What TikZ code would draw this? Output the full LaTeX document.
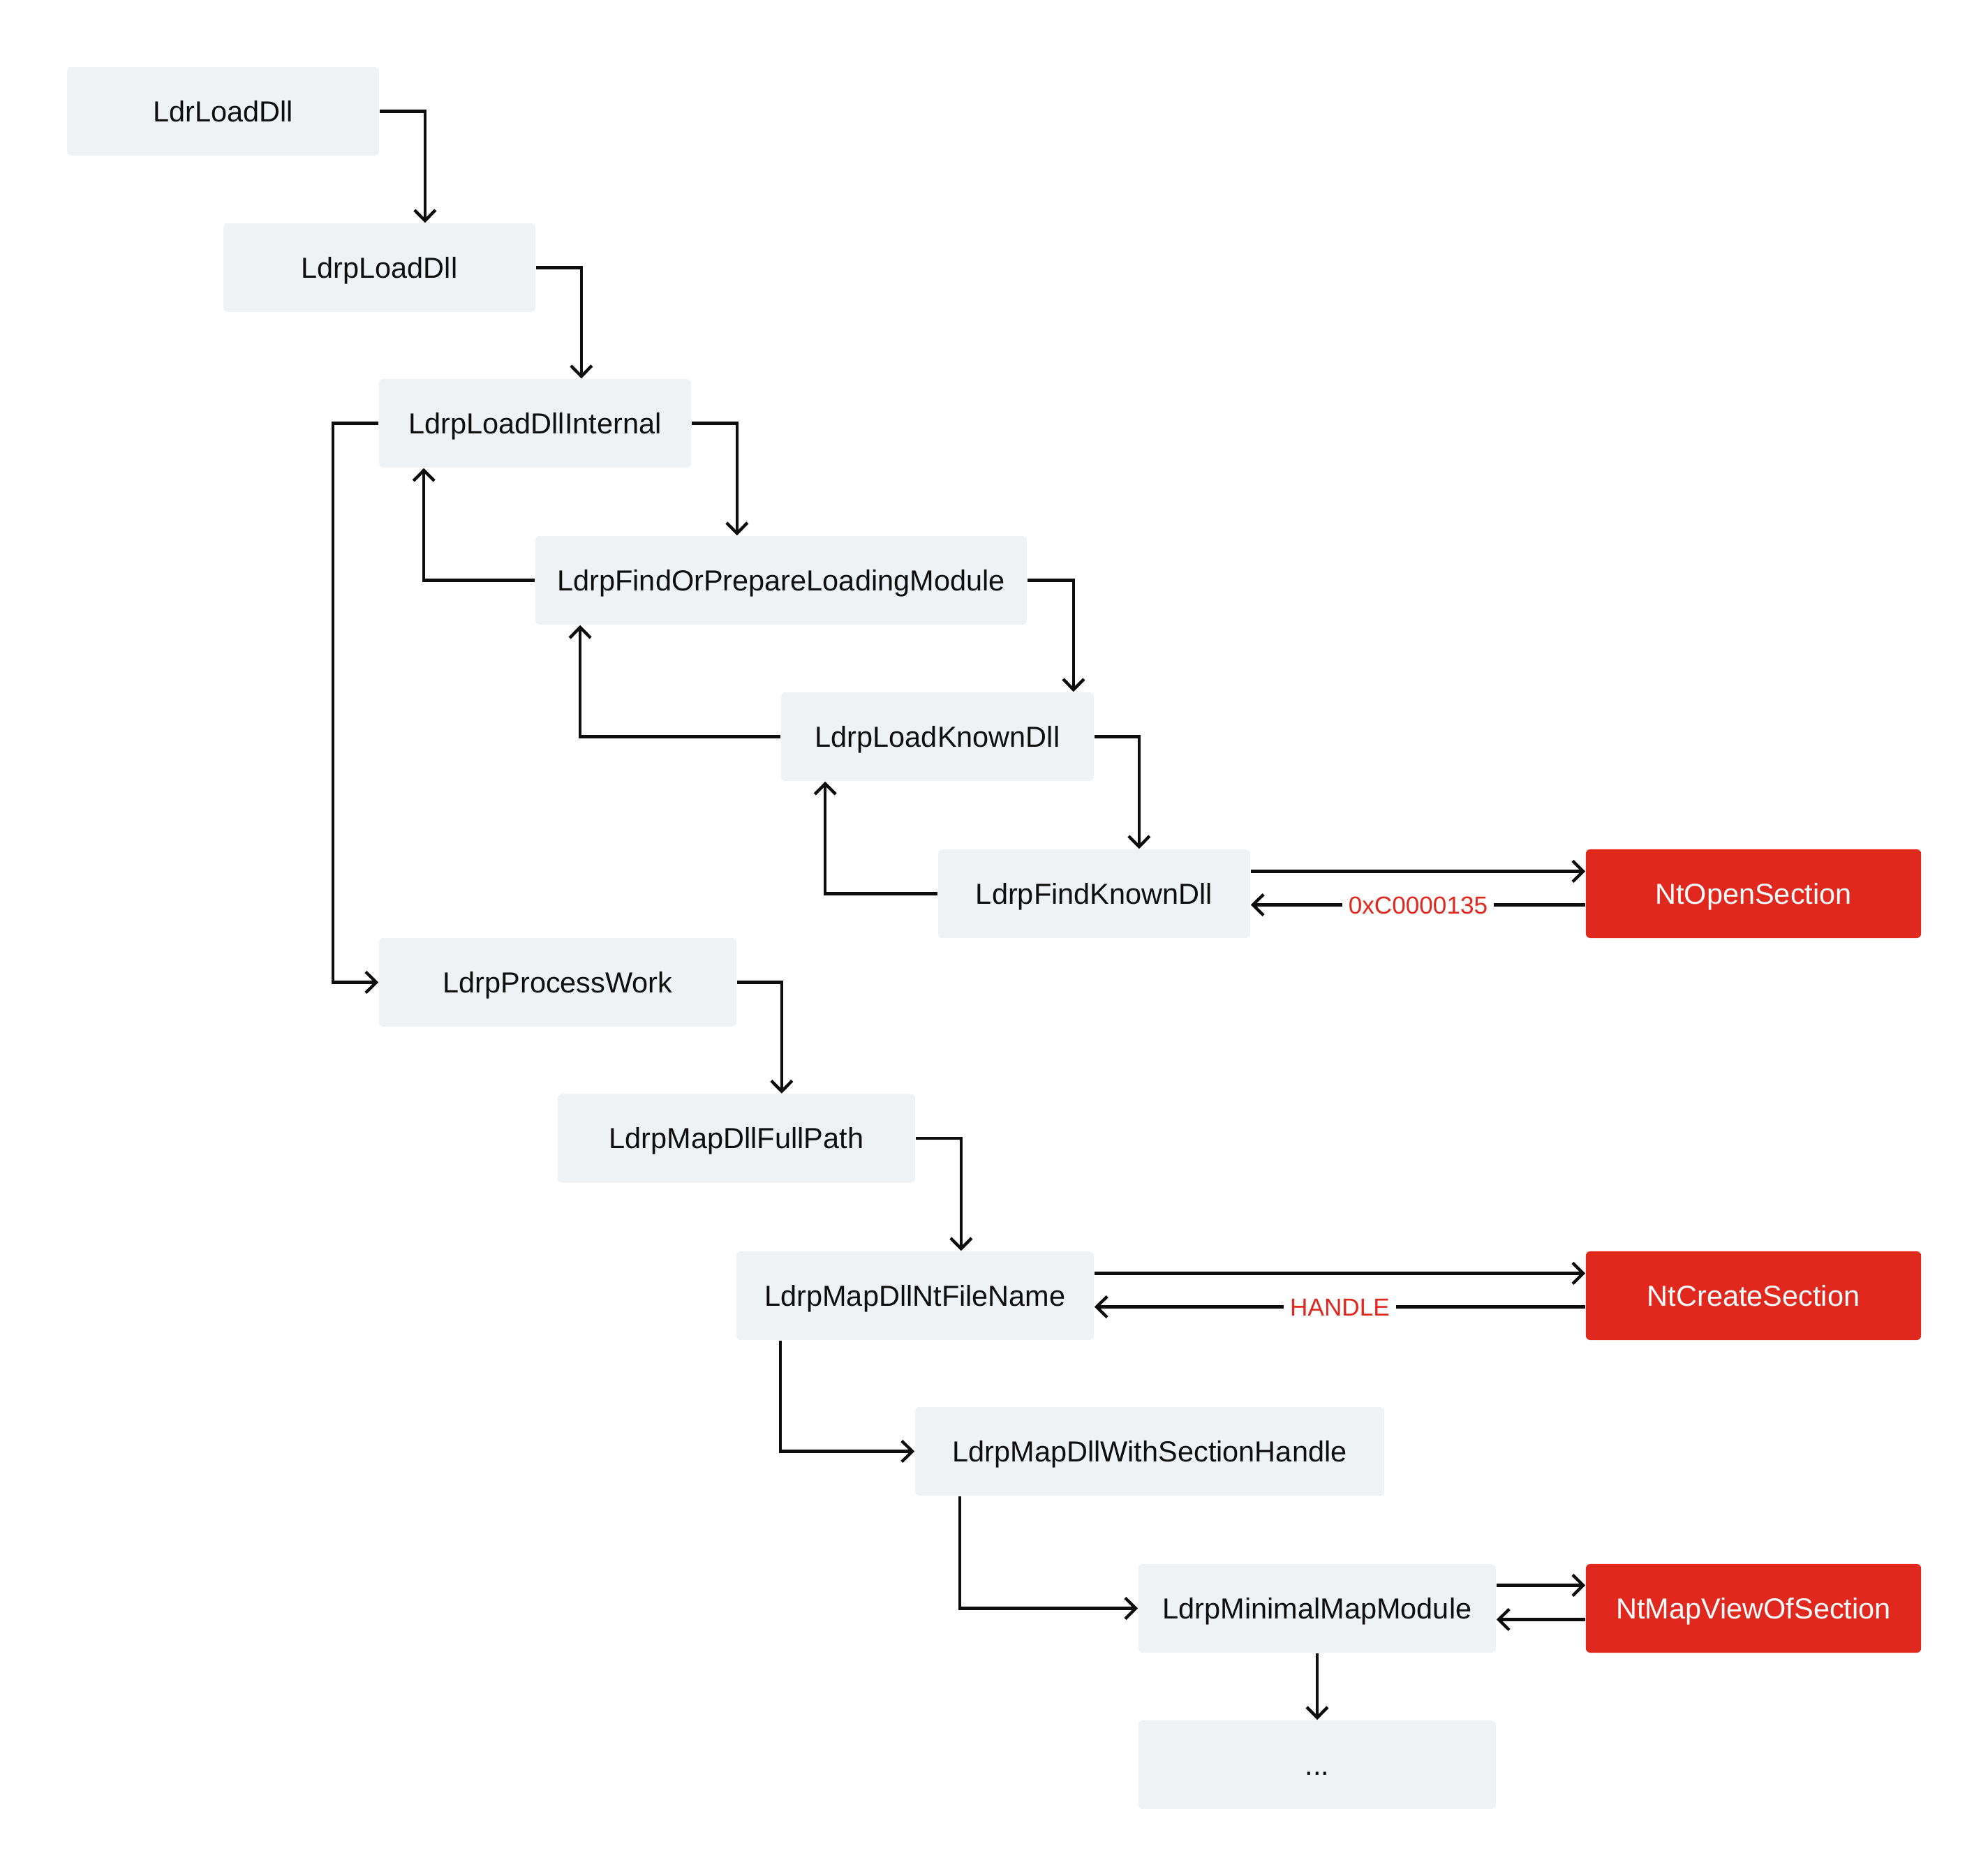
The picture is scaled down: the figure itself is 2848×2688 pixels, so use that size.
\documentclass[tikz,border=0pt]{standalone}
\usepackage{fontspec}
\setmainfont{Liberation Sans}
\usetikzlibrary{arrows.meta}
\definecolor{boxgray}{HTML}{EFF2F5}
\definecolor{ntred}{HTML}{E0281E}
\definecolor{ink}{HTML}{0E0E0E}
\begin{document}
\begin{tikzpicture}[x=0.01cm,y=-0.01cm,
  box/.style={rectangle, rounded corners=1.8pt, fill=boxgray, text=ink, minimum height=1.27cm,
    inner sep=0pt, text height=8.45pt, text depth=0pt, font=\fontsize{11.8pt}{14pt}\selectfont},
  ntbox/.style={box, fill=ntred, text=white, minimum width=4.8cm},
  arr/.style={draw=ink, line width=1.25pt, -{Straight Barb[length=4.3pt,width=8.5pt]}},
  lbl/.style={fill=white, text=ntred, font=\fontsize{10pt}{12pt}\selectfont, inner xsep=2.5pt,
    inner ysep=2pt, text height=7.1pt, text depth=0pt}
]
\useasboundingbox[fill=white] (0,0) rectangle (2848,2688);

\node[box, minimum width=4.47cm] (A) at (319.5,159.5) {LdrLoadDll};
\node[box, minimum width=4.47cm] (B) at (543.5,383.5) {LdrpLoadDll};
\node[box, minimum width=4.47cm] (C) at (766.5,606.5) {LdrpLoadDllInternal};
\node[box, minimum width=7.04cm] (D) at (1119,831.5) {LdrpFindOrPrepareLoadingModule};
\node[box, minimum width=4.48cm] (E) at (1343,1055.5) {LdrpLoadKnownDll};
\node[box, minimum width=4.47cm] (F) at (1567.5,1280.5) {LdrpFindKnownDll};
\node[ntbox] (G) at (2512,1280.5) {NtOpenSection};
\node[box, minimum width=5.12cm] (H) at (799,1407.5) {LdrpProcessWork};
\node[box, minimum width=5.12cm] (I) at (1055,1631) {LdrpMapDllFullPath};
\node[box, minimum width=5.12cm] (J) at (1311,1856.5) {LdrpMapDllNtFileName};
\node[ntbox] (K) at (2512,1856.5) {NtCreateSection};
\node[box, minimum width=6.72cm] (L) at (1647,2079.5) {LdrpMapDllWithSectionHandle};
\node[box, minimum width=5.12cm] (M) at (1887,2304.5) {LdrpMinimalMapModule};
\node[ntbox] (N) at (2512,2304.5) {NtMapViewOfSection};
\node[box, minimum width=5.12cm] (O) at (1887,2528.5) {...};

% forward calls
\draw[arr] (A.east) -- ++(65,0) coordinate (a1) -- (a1 |- B.north);
\draw[arr] (B.east) -- ++(65,0) coordinate (a2) -- (a2 |- C.north);
\draw[arr] (C.east) -- ++(65,0) coordinate (a3) -- (a3 |- D.north);
\draw[arr] (D.east) -- ++(66,0) coordinate (a4) -- (a4 |- E.north);
\draw[arr] (E.east) -- ++(64,0) coordinate (a5) -- (a5 |- F.north);
\draw[arr] (H.east) -- ++(64,0) coordinate (a6) -- (a6 |- I.north);
\draw[arr] (I.east) -- ++(65,0) coordinate (a7) -- (a7 |- J.north);

% returns
\draw[arr] (D.west) -| ([xshift=0.65cm]C.south west);
\draw[arr] (E.west) -| ([xshift=0.65cm]D.south west);
\draw[arr] (F.west) -| ([xshift=0.64cm]E.south west);

% long branch
\draw[arr] (C.west) -- ++(-65,0) |- (H.west);
\draw[arr] ([xshift=0.64cm]J.south west) |- (L.west);
\draw[arr] ([xshift=0.65cm]L.south west) |- (M.west);
\draw[arr] (M.south) -- (O.north);

% syscalls
\draw[arr] ([yshift=0.32cm]F.east) -- ([yshift=0.32cm]G.west);
\draw[arr] ([yshift=-0.16cm]G.west) -- node[lbl]{0xC0000135} ([yshift=-0.16cm]F.east);
\draw[arr] ([yshift=0.32cm]J.east) -- ([yshift=0.32cm]K.west);
\draw[arr] ([yshift=-0.16cm]K.west) -- node[lbl]{HANDLE} ([yshift=-0.16cm]J.east);
\draw[arr] ([yshift=0.33cm]M.east) -- ([yshift=0.33cm]N.west);
\draw[arr] ([yshift=-0.16cm]N.west) -- ([yshift=-0.16cm]M.east);
\end{tikzpicture}
\end{document}
